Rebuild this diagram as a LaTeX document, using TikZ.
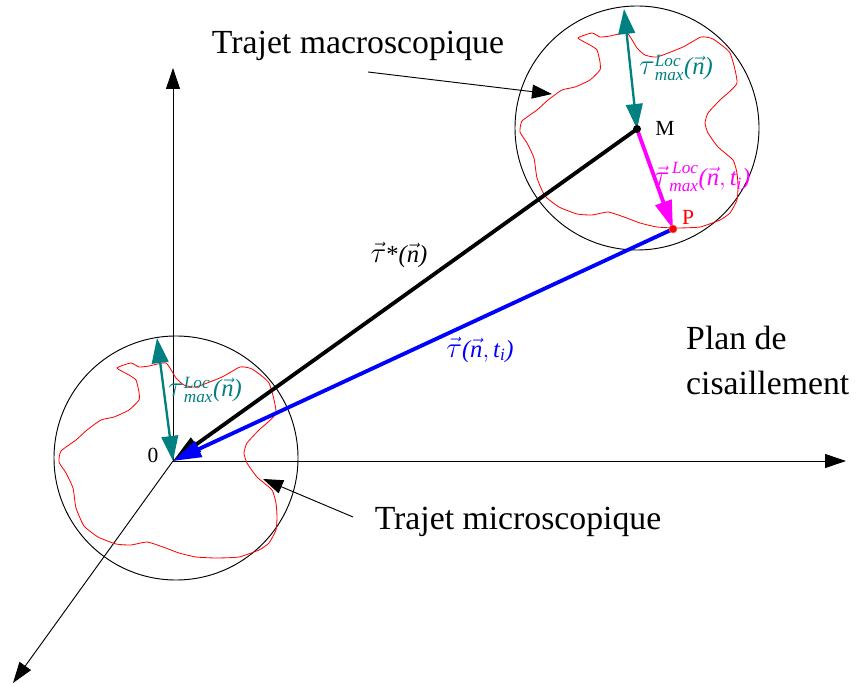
\documentclass[tikz,border=0pt]{standalone}
\usepackage{fontspec}
\setmainfont{Liberation Serif}
\usepackage{amsmath}
\usetikzlibrary{arrows.meta}
\definecolor{tealc}{HTML}{008080}
\definecolor{magc}{HTML}{FF00FF}
\definecolor{bluec}{HTML}{0000FF}
\definecolor{pathc}{HTML}{FF0000}
\newcommand{\itx}[1]{\text{\itshape #1}}
\newcommand{\gtau}{\text{\fontsize{28}{28}\selectfont$\tau$}}
\newcommand{\nvec}{\vec{\itx{n}}}
\newcommand{\lp}{\itx{(}}
\newcommand{\rp}{\itx{)}}
\tikzset{
  axis/.style={-{Triangle[length=0.63cm,width=0.42cm]}, line width=0.8pt},
  pointer/.style={-{Triangle[length=0.6cm,width=0.42cm]}, line width=0.8pt},
  bound/.style={draw=black, line width=0.8pt},
  trace/.style={draw=pathc, line width=0.7pt, line join=round},
  vec/.style={-{Triangle[length=0.85cm,width=0.5cm]}, line width=1.15mm},
  span/.style={{Triangle[length=0.75cm,width=0.5cm]}-{Triangle[length=0.75cm,width=0.5cm]},
               draw=tealc, line width=0.7mm},
  lbl/.style={font=\fontsize{28.8}{38.4}\selectfont, inner sep=0pt},
  pt/.style={font=\fontsize{18.4}{20}\selectfont, inner sep=0pt},
  formula/.style={font=\fontsize{21}{24}\selectfont, inner sep=0pt},
  dot/.style={circle, inner sep=0pt, minimum size=0.24cm},
}
% the same closed path, drawn round a centre
\newcommand{\route}[1]{%
  \draw[trace, shift={(#1)}] plot[smooth cycle, tension=0.3] coordinates {
    (-59,-90) (-45,-95) (-37,-91) (-27,-92) (-10,-95) (0,-80) (8,-73) (20,-71)
    (46,-81) (64,-91) (76,-89) (93,-75) (100,-45) (83,-28) (71,-15) (68,-5)
    (71,5) (81,19) (96,32) (100,45) (101,59) (100,72) (93,85) (83,92) (63,99)
    (40,100) (20,99) (3,95) (-13,89) (-29,84) (-45,87) (-60,86) (-78,79)
    (-92,68) (-100,50) (-103,30) (-110,15) (-117,4) (-115,-7) (-100,-18)
    (-89,-28) (-75,-38) (-62,-41) (-47,-48) (-37,-58) (-37,-66) (-40,-78)
    (-47,-83)};
}

\begin{document}
\begin{tikzpicture}[x=0.03cm, y=-0.03cm]
\useasboundingbox (0,0) rectangle (861,684);

% ---------------- axes ----------------
\coordinate (O) at (173,461);
\coordinate (ztip) at (173,68);
\coordinate (xtip) at (846,461);
\coordinate (ytip) at (13,683);
\draw[axis] (O) -- (ztip);
\draw[axis] (O) -- (xtip);
\draw[axis] (O) -- (ytip);
\node[pt] (zero) at (153,455) {0};
\node[lbl, align=left, anchor=west] (plan) at (686,360) {Plan de\\cisaillement};

% ---------------- microscopic circle ----------------
\draw[bound] (176,458) circle[radius=122];
\route{176,458}
\coordinate (otop) at (157,338);
\draw[span] (otop) -- (O);
\node[formula, text=tealc] (omax) at (205,390)
  {$\gtau^{\itx{Loc}}_{\itx{max}}\lp\nvec\rp$};

% ---------------- macroscopic circle ----------------
\coordinate (M) at (637,129);
\coordinate (P) at (673,229);
\draw[bound] (637,128) circle[radius=122];
\route{637,128}
\coordinate (mtop) at (624,9);
\draw[span] (mtop) -- (M);
\node[formula, text=tealc] (mmax) at (676,68)
  {$\gtau^{\itx{Loc}}_{\itx{max}}\lp\nvec\rp$};

% ---------------- vectors ----------------
\draw[vec, black] (M) -- (O);
\draw[vec, bluec] (P) -- (O);
\draw[vec, magc] (M) -- (P);
\node[dot, fill=black] (Mdot) at (M) {};
\node[dot, fill=pathc, draw=pathc!60, line width=0.4pt] (Pdot) at (P) {};
\node[pt] (Mlbl) at (665,128) {M};
\node[pt, text=pathc] (Plbl) at (688,217) {P};
\node[formula] (tstar) at (399,255) {$\vec{\gtau}\text{*}\lp\nvec\rp$};
\node[formula, text=bluec] (tcur) at (480,350)
  {$\vec{\gtau}\lp\nvec,\itx{t}_{\itx{i}}\rp$};
\node[formula, text=magc] (tloc) at (702,177)
  {$\vec{\gtau}^{\,\itx{Loc}}_{\itx{max}}\lp\nvec,\itx{t}_{\itx{i}}\rp$};

% ---------------- paths ----------------
\node[lbl] (macro) at (358,46) {Trajet macroscopique};
\coordinate (macrofrom) at (368,72);
\coordinate (macrohit) at (552,94);
\draw[pointer] (macrofrom) -- (macrohit);
\node[lbl] (micro) at (518,522) {Trajet microscopique};
\coordinate (microfrom) at (353,517);
\coordinate (microhit) at (263,479);
\draw[pointer] (microfrom) -- (microhit);

\end{tikzpicture}
\end{document}
